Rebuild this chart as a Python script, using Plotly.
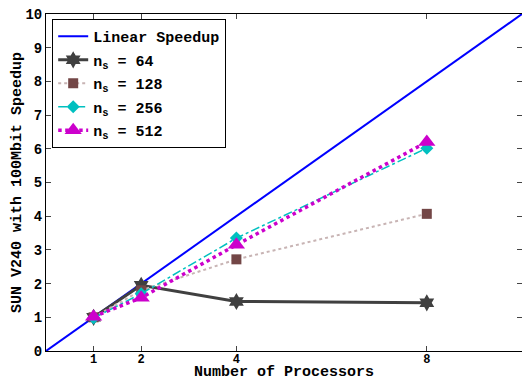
import plotly.graph_objects as go

procs = [1, 2, 4, 8]
linear_x = [0, 10]
linear_y = [0, 10]
ns64 = [1.0, 1.95, 1.47, 1.43]
ns128 = [1.0, 1.8, 2.72, 4.07]
ns256 = [0.98, 1.7, 3.35, 6.02]
ns512 = [1.02, 1.58, 3.15, 6.2]
x_ticks = [1, 2, 4, 8]
y_ticks = list(range(0, 11))
x_title = "Number of Processors"
y_title = "SUN V240 with 100Mbit Speedup"

FONT = "Courier New"

fig = go.Figure()
fig.add_trace(go.Scatter(x=linear_x, y=linear_y, mode="lines", name="Linear Speedup",
                         legendgroup="a",
                         line=dict(color="#0000ff", width=2)))
fig.add_trace(go.Scatter(x=procs, y=ns64, mode="lines+markers", name="n<sub>s</sub> = 64",
                         legendgroup="b",
                         line=dict(color="#404040", width=3),
                         marker=dict(symbol="hexagram", size=13, color="#404040")))
fig.add_trace(go.Scatter(x=procs, y=ns128, mode="lines+markers", name="n<sub>s</sub> = 128",
                         legendgroup="c",
                         line=dict(color="#c8b4b4", width=2, dash="dot"),
                         marker=dict(symbol="square", size=10, color="#734646")))
fig.add_trace(go.Scatter(x=procs, y=ns256, mode="lines+markers", name="n<sub>s</sub> = 256",
                         legendgroup="d",
                         line=dict(color="#00c0c0", width=1.5, dash="dashdot"),
                         marker=dict(symbol="diamond", size=10, color="#00c0c0")))
fig.add_trace(go.Scatter(x=procs, y=ns512, mode="lines+markers", name="n<sub>s</sub> = 512",
                         legendgroup="e",
                         line=dict(color="#cc00cc", width=3.5, dash="dot"),
                         marker=dict(symbol="triangle-up", size=15, color="#cc00cc")))

fig.update_layout(
    width=522, height=383,
    margin=dict(l=46, r=0, t=14, b=32, autoexpand=False),
    paper_bgcolor="white", plot_bgcolor="white",
    font=dict(family=FONT, size=13, color="black", weight="bold"),
    legend=dict(x=0.013, y=0.985, xanchor="left", yanchor="top",
                bordercolor="black", borderwidth=1, bgcolor="white",
                font=dict(family=FONT, size=15, weight="bold"),
                tracegroupgap=1, itemwidth=30),
    showlegend=True,
    annotations=[dict(text=x_title, xref="paper", yref="paper", x=0.5, y=-0.096,
                      xanchor="center", yanchor="bottom", showarrow=False,
                      font=dict(family=FONT, size=15, weight="bold"))],
)
fig.update_xaxes(range=[0, 10], tickvals=x_ticks, ticks="inside", ticklen=5,
                 showline=True, linecolor="black", linewidth=1, mirror="ticks",
                 showgrid=False, zeroline=False, automargin=False,
                 ticklabelstandoff=-3,
                 tickfont=dict(family=FONT, size=12, weight="bold"))
fig.update_yaxes(range=[0, 10], tickvals=y_ticks, ticks="inside", ticklen=5,
                 showline=True, linecolor="black", linewidth=1, mirror="ticks",
                 showgrid=False, zeroline=False, automargin=False,
                 title=dict(text=y_title, standoff=0,
                            font=dict(family=FONT, size=15, weight="bold")),
                 tickfont=dict(family=FONT, size=14, weight="bold"))

fig.write_html("out.html", config={"displayModeBar": False},
               post_script="document.body.style.margin='0';document.body.style.padding='0';")
